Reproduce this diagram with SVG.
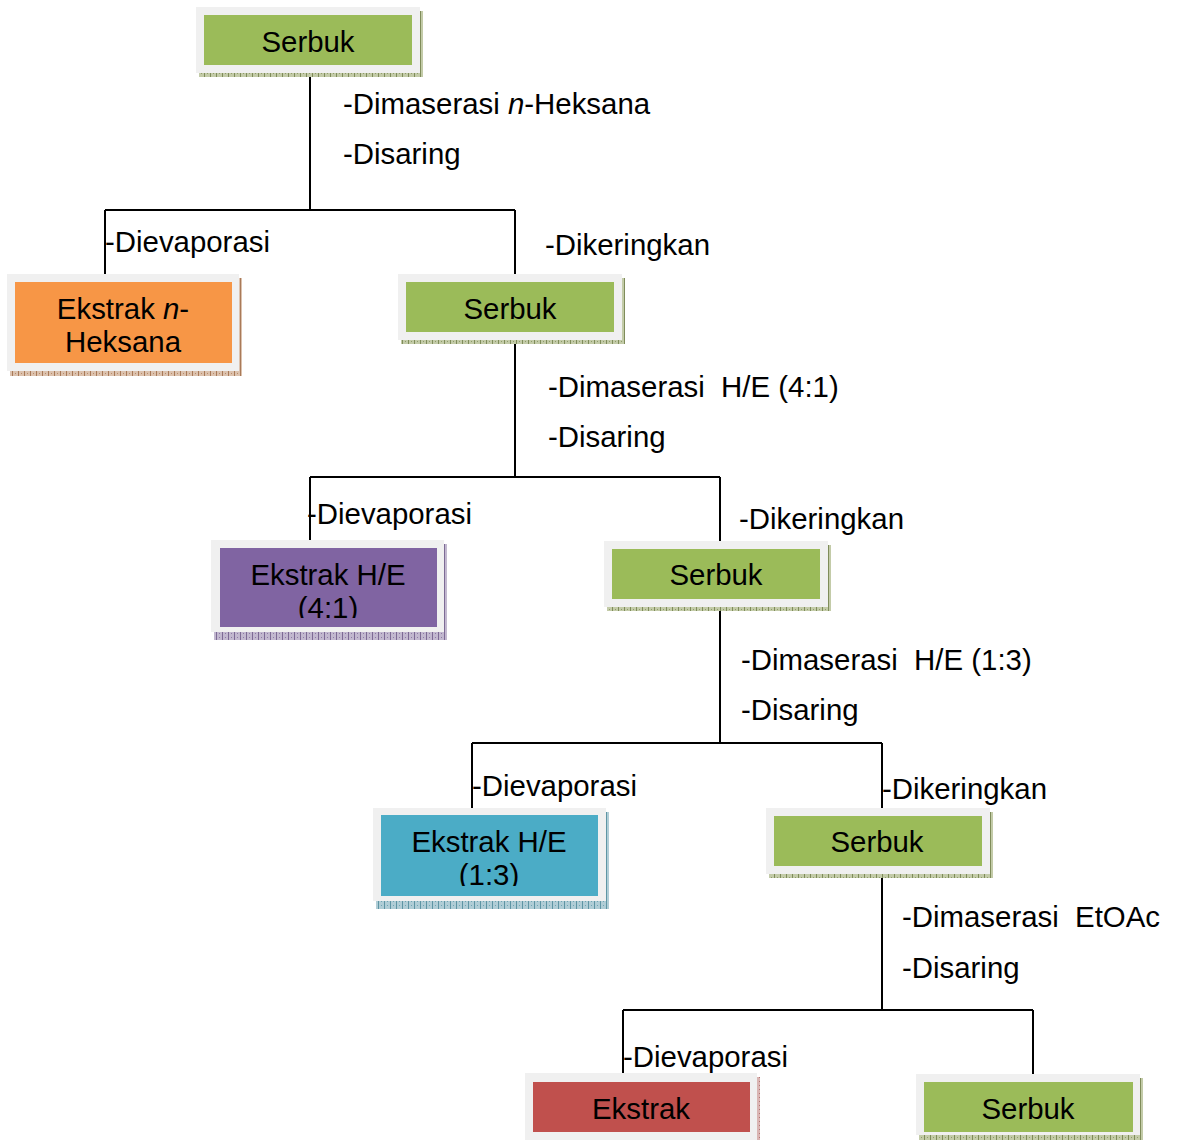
<svg xmlns="http://www.w3.org/2000/svg" width="1178" height="1140" viewBox="0 0 1178 1140">
<style>
text{font-family:"Liberation Sans",Arial,sans-serif;font-size:29.4px;fill:#000;white-space:pre}
.c{text-anchor:middle}
.frame{fill:#f0f0f0}
.conn{stroke:#000;stroke-width:2;fill:none}
</style>
<defs>
<pattern id="pg" width="6" height="4" patternUnits="userSpaceOnUse"><rect width="6" height="4" fill="#c3cba8"/><rect x="0" y="0" width="1" height="4" fill="#7f8c5a"/><rect x="3" y="1" width="1" height="1" fill="#8f9c6a"/></pattern>
<pattern id="po" width="6" height="4" patternUnits="userSpaceOnUse"><rect width="6" height="4" fill="#dcc2ae"/><rect x="0" y="0" width="1" height="4" fill="#a97a58"/><rect x="3" y="1" width="1" height="1" fill="#b98a68"/></pattern>
<pattern id="pp" width="6" height="4" patternUnits="userSpaceOnUse"><rect width="6" height="4" fill="#c2b8cf"/><rect x="0" y="0" width="1" height="4" fill="#7d6a95"/><rect x="3" y="1" width="1" height="1" fill="#8d7aa5"/></pattern>
<pattern id="pb" width="6" height="4" patternUnits="userSpaceOnUse"><rect width="6" height="4" fill="#b0cdd6"/><rect x="0" y="0" width="1" height="4" fill="#5e95a4"/><rect x="3" y="1" width="1" height="1" fill="#6ea5b4"/></pattern>
<pattern id="pr" width="6" height="4" patternUnits="userSpaceOnUse"><rect width="6" height="4" fill="#d9b5b3"/><rect x="0" y="0" width="1" height="4" fill="#a56462"/><rect x="3" y="1" width="1" height="1" fill="#b57472"/></pattern>
<clipPath id="clipA"><rect x="220" y="548" width="217" height="70"/></clipPath>
<clipPath id="clipB"><rect x="381" y="815" width="217" height="71"/></clipPath>
</defs>

<g id="connectors">
<path class="conn" d="M310 72V210M105 210H515M105 210V274M515 210V274"/>
<path class="conn" d="M515 340V477M310 477H720M310 477V541M720 477V541"/>
<path class="conn" d="M720 607V743M472 743H882M472 743V808M882 743V808"/>
<path class="conn" d="M882 874V1010M623 1010H1033M623 1010V1074M1033 1010V1074"/>
</g>

<g id="labels">
<text x="343" y="114">-Dimaserasi <tspan font-style="italic">n</tspan>-Heksana</text>
<text x="343" y="164">-Disaring</text>
<text x="105" y="252">-Dievaporasi</text>
<text x="545" y="255">-Dikeringkan</text>
<text x="548" y="397">-Dimaserasi  H/E (4:1)</text>
<text x="548" y="447">-Disaring</text>
<text x="307" y="524">-Dievaporasi</text>
<text x="739" y="529">-Dikeringkan</text>
<text x="741" y="670">-Dimaserasi  H/E (1:3)</text>
<text x="741" y="720">-Disaring</text>
<text x="472" y="796">-Dievaporasi</text>
<text x="882" y="799">-Dikeringkan</text>
<text x="902" y="927">-Dimaserasi  EtOAc</text>
<text x="902" y="978">-Disaring</text>
<text x="623" y="1067">-Dievaporasi</text>
</g>

<g id="node-serbuk1">
<rect x="199" y="11" width="224" height="66" fill="url(#pg)"/>
<rect class="frame" x="196" y="7" width="224" height="66"/>
<rect x="204" y="15" width="208" height="50" fill="#9bbb59"/>
<text class="c" x="308" y="52">Serbuk</text>
</g>

<g id="node-ekstrak-heksana">
<rect x="10" y="278" width="232" height="98" fill="url(#po)"/>
<rect class="frame" x="7" y="274" width="232" height="97"/>
<rect x="15" y="282" width="217" height="81" fill="#f79646"/>
<text class="c" x="123" y="319">Ekstrak <tspan font-style="italic">n</tspan>-</text>
<text class="c" x="123" y="352">Heksana</text>
</g>

<g id="node-serbuk2">
<rect x="401" y="278" width="224" height="66" fill="url(#pg)"/>
<rect class="frame" x="398" y="274" width="224" height="66"/>
<rect x="406" y="282" width="208" height="50" fill="#9bbb59"/>
<text class="c" x="510" y="319">Serbuk</text>
</g>

<g id="node-ekstrak-he41">
<rect x="214" y="544" width="233" height="96" fill="url(#pp)"/>
<rect class="frame" x="211" y="540" width="233" height="92"/>
<rect x="220" y="548" width="217" height="79" fill="#8064a2"/>
<g clip-path="url(#clipA)">
<text class="c" x="328" y="585">Ekstrak H/E</text>
<text class="c" x="328" y="618">(4:1)</text>
</g>
</g>

<g id="node-serbuk3">
<rect x="607" y="545" width="224" height="66" fill="url(#pg)"/>
<rect class="frame" x="604" y="541" width="224" height="66"/>
<rect x="612" y="549" width="208" height="50" fill="#9bbb59"/>
<text class="c" x="716" y="585">Serbuk</text>
</g>

<g id="node-ekstrak-he13">
<rect x="376" y="812" width="233" height="97" fill="url(#pb)"/>
<rect class="frame" x="373" y="808" width="233" height="93"/>
<rect x="381" y="815" width="217" height="81" fill="#4bacc6"/>
<g clip-path="url(#clipB)">
<text class="c" x="489" y="852">Ekstrak H/E</text>
<text class="c" x="489" y="885">(1:3)</text>
</g>
</g>

<g id="node-serbuk4">
<rect x="769" y="812" width="224" height="66" fill="url(#pg)"/>
<rect class="frame" x="766" y="808" width="224" height="66"/>
<rect x="774" y="816" width="208" height="50" fill="#9bbb59"/>
<text class="c" x="877" y="852">Serbuk</text>
</g>

<g id="node-ekstrak">
<rect x="528" y="1077" width="232" height="66" fill="url(#pr)"/>
<rect class="frame" x="525" y="1073" width="232" height="67"/>
<rect x="533" y="1082" width="217" height="50" fill="#c0504d"/>
<text class="c" x="641" y="1119">Ekstrak</text>
</g>

<g id="node-serbuk5">
<rect x="919" y="1078" width="224" height="66" fill="url(#pg)"/>
<rect class="frame" x="916" y="1074" width="224" height="61"/>
<rect x="924" y="1082" width="209" height="50" fill="#9bbb59"/>
<text class="c" x="1028" y="1119">Serbuk</text>
</g>
</svg>
